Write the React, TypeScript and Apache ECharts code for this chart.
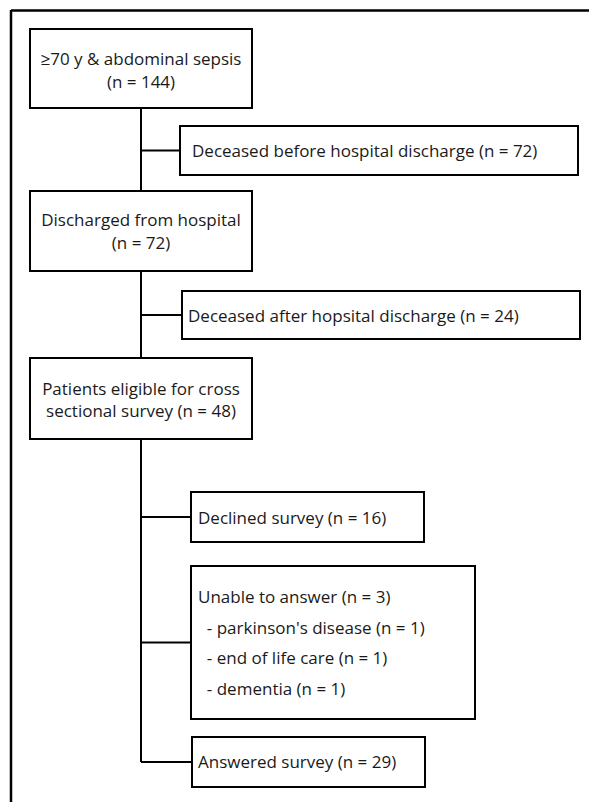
import React, { useEffect, useRef } from "react";
import * as echarts from "echarts";

// Node texts (flow order)
const mainNodes: string[][] = [
  ["≥70 y & abdominal sepsis", "(n = 144)"],
  ["Discharged from hospital", "(n = 72)"],
  ["Patients eligible for cross", "sectional survey (n = 48)"],
];
const sideNodes: string[][] = [
  ["Deceased before hospital discharge (n = 72)"],
  ["Deceased after hopsital discharge (n = 24)"],
  ["Declined survey (n = 16)"],
  ["Unable to answer (n = 3)", "  - parkinson's disease (n = 1)", "  - end of life care (n = 1)", "  - dementia (n = 1)"],
  ["Answered survey (n = 29)"],
];

// Layout (pixels)
const mainBoxes = [
  { x: 30, y: 29, w: 222, h: 79, lineY: [58, 81] },
  { x: 30, y: 191, w: 222, h: 80, lineY: [219, 242] },
  { x: 30, y: 358, w: 222, h: 81, lineY: [388, 410] },
];
const sideBoxes = [
  { x: 180, y: 126, w: 398, h: 49, tx: 192, lineY: [150] },
  { x: 182, y: 291, w: 398, h: 48, tx: 188, lineY: [315] },
  { x: 191, y: 492, w: 233, h: 50, tx: 198, lineY: [517] },
  { x: 191, y: 566, w: 284, h: 153, tx: 198, lineY: [596, 627, 657, 688] },
  { x: 192, y: 737, w: 233, h: 50, tx: 198, lineY: [761] },
];
const SPINE_X = 141;

export default function App() {
  const ref = useRef<HTMLDivElement>(null);
  useEffect(() => {
    document.body.style.margin = "0";
    const chart = echarts.init(ref.current!, null, { renderer: "svg" });
    const font = { fontFamily: "Open Sans", fontSize: 17, fill: "#1a1a1a" };
    const els: any[] = [];
    // outer partial frame
    els.push({ type: "line", shape: { x1: 11, y1: 10.5, x2: 589, y2: 10.5 }, style: { stroke: "#000", lineWidth: 2.5 } });
    els.push({ type: "line", shape: { x1: 11, y1: 10, x2: 11, y2: 802 }, style: { stroke: "#000", lineWidth: 2.5 } });
    // spine segments
    const lastBranch = sideBoxes[sideBoxes.length - 1];
    els.push({ type: "line", shape: { x1: SPINE_X, y1: mainBoxes[0].y + mainBoxes[0].h, x2: SPINE_X, y2: mainBoxes[1].y }, style: { stroke: "#000", lineWidth: 2 } });
    els.push({ type: "line", shape: { x1: SPINE_X, y1: mainBoxes[1].y + mainBoxes[1].h, x2: SPINE_X, y2: mainBoxes[2].y }, style: { stroke: "#000", lineWidth: 2 } });
    els.push({ type: "line", shape: { x1: SPINE_X, y1: mainBoxes[2].y + mainBoxes[2].h, x2: SPINE_X, y2: lastBranch.y + lastBranch.h / 2 }, style: { stroke: "#000", lineWidth: 2 } });
    mainBoxes.forEach((b, i) => {
      els.push({ type: "rect", shape: { x: b.x, y: b.y, width: b.w, height: b.h }, style: { fill: "#fff", stroke: "#000", lineWidth: 2 } });
      mainNodes[i].forEach((t, j) => {
        els.push({ type: "text", x: b.x + b.w / 2, y: b.lineY[j], style: { ...font, text: t, textAlign: "center", textVerticalAlign: "middle" } });
      });
    });
    sideBoxes.forEach((b, i) => {
      const by = b.y + b.h / 2;
      els.push({ type: "line", shape: { x1: SPINE_X, y1: by, x2: b.x, y2: by }, style: { stroke: "#000", lineWidth: 2 } });
      els.push({ type: "rect", shape: { x: b.x, y: b.y, width: b.w, height: b.h }, style: { fill: "#fff", stroke: "#000", lineWidth: 2 } });
      sideNodes[i].forEach((t, j) => {
        els.push({ type: "text", x: b.tx, y: b.lineY[j], style: { ...font, text: t, textAlign: "left", textVerticalAlign: "middle" } });
      });
    });
    chart.setOption({ animation: false, backgroundColor: "#fff", graphic: { elements: els } });
    return () => chart.dispose();
  }, []);
  return <div ref={ref} style={{ width: 589, height: 802 }} />;
}
